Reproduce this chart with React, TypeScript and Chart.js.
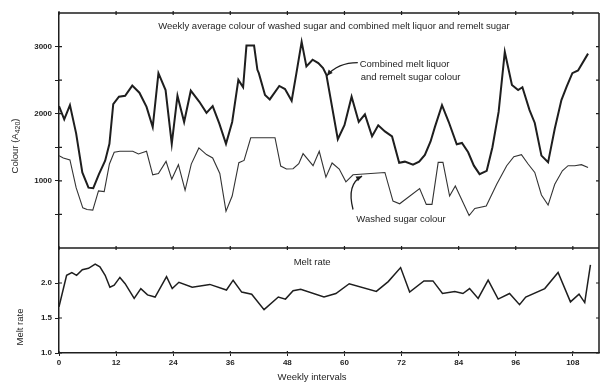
import React, { useEffect, useRef } from "react";
import { Chart, registerables } from "chart.js";
Chart.register(...registerables);

// ---- data ----
const combinedWeeks = [0, 1.1, 2.3, 3.6, 4.9, 6.2, 7.2, 8.4, 9.7, 10.6, 11.4, 12.6, 13.9, 15.4, 16.9, 18.4, 19.7, 20.9, 22.4, 23.7, 24.9, 26.3, 27.7, 29.5, 31.0, 32.3, 33.7, 35.1, 36.4, 37.7, 38.7, 39.4, 41.0, 41.7, 42.0, 43.3, 44.3, 46.3, 47.5, 48.9, 49.9, 51.0, 52.0, 53.3, 54.5, 55.5, 56.2, 58.6, 60.0, 61.5, 63.0, 64.3, 65.8, 67.1, 68.5, 70.0, 71.5, 72.7, 74.4, 75.7, 76.9, 78.1, 79.0, 80.5, 81.9, 83.6, 84.7, 86.0, 87.2, 88.4, 89.9, 91.1, 92.4, 93.7, 95.2, 96.5, 97.4, 98.9, 100.0, 101.4, 102.8, 104.2, 105.6, 106.7, 107.9, 109.1, 111.2];
const combinedColour = [2113, 1917, 2128, 1707, 1125, 899, 890, 1100, 1300, 1552, 2143, 2253, 2268, 2418, 2313, 2102, 1802, 2604, 2353, 1552, 2268, 1877, 2343, 2177, 2012, 2113, 1852, 1552, 1877, 2504, 2394, 3015, 3015, 2654, 2604, 2278, 2213, 2413, 2368, 2193, 2604, 3071, 2704, 2804, 2754, 2680, 2579, 1620, 1830, 2253, 1877, 1990, 1665, 1827, 1737, 1662, 1270, 1286, 1240, 1285, 1386, 1586, 1800, 2128, 1880, 1545, 1565, 1426, 1226, 1100, 1150, 1501, 2027, 2920, 2429, 2353, 2394, 2053, 1862, 1376, 1276, 1777, 2203, 2403, 2604, 2644, 2895];

const washedWeeks = [0, 0.9, 2.3, 3.6, 5.0, 5.9, 7.1, 8.3, 9.5, 10.6, 11.6, 12.8, 15.5, 16.7, 18.4, 19.7, 20.9, 22.5, 23.7, 25.1, 26.5, 27.8, 29.4, 31.0, 32.3, 33.8, 35.1, 36.4, 37.8, 38.9, 40.3, 45.4, 46.6, 47.8, 49.2, 50.4, 51.3, 53.4, 54.7, 56.1, 57.4, 58.9, 60.3, 61.8, 68.5, 70.2, 71.6, 75.8, 77.2, 78.4, 79.7, 80.7, 82.1, 83.3, 86.2, 87.4, 89.8, 92.0, 94.1, 95.6, 97.2, 98.6, 100.0, 101.4, 102.8, 104.2, 105.8, 107.0, 108.4, 109.8, 111.2];
const washedColour = [1376, 1341, 1311, 899, 598, 574, 564, 850, 839, 1251, 1426, 1441, 1441, 1401, 1441, 1090, 1110, 1290, 1025, 1241, 860, 1250, 1490, 1391, 1341, 1110, 549, 774, 1270, 1305, 1642, 1642, 1220, 1176, 1180, 1255, 1405, 1226, 1441, 1055, 1266, 1176, 985, 1090, 1125, 699, 659, 884, 649, 649, 1276, 1276, 774, 925, 484, 589, 624, 950, 1226, 1361, 1391, 1251, 1125, 789, 639, 950, 1150, 1226, 1226, 1241, 1200];

const meltWeeks = [0, 1.6, 2.7, 3.7, 4.9, 6.2, 7.6, 8.6, 9.7, 10.7, 11.6, 12.8, 13.9, 15.8, 17.2, 18.6, 20.2, 22.6, 23.8, 25.2, 28.0, 31.7, 35.2, 36.6, 38.4, 40.5, 43.1, 46.1, 47.6, 49.2, 50.8, 55.7, 58.2, 61.0, 66.7, 69.2, 71.8, 73.7, 76.7, 78.6, 80.6, 83.2, 84.9, 86.3, 88.1, 90.2, 92.3, 94.7, 96.8, 98.1, 102.1, 104.9, 107.5, 109.3, 110.5, 111.7];
const meltRate = [1.66, 2.11, 2.15, 2.11, 2.19, 2.21, 2.27, 2.23, 2.11, 1.94, 1.97, 2.08, 1.99, 1.78, 1.92, 1.83, 1.80, 2.09, 1.92, 2.01, 1.94, 1.98, 1.90, 2.04, 1.87, 1.84, 1.62, 1.80, 1.77, 1.89, 1.91, 1.80, 1.85, 1.99, 1.88, 2.02, 2.22, 1.87, 2.03, 2.03, 1.85, 1.88, 1.85, 1.92, 1.78, 2.04, 1.77, 1.85, 1.69, 1.80, 1.92, 2.15, 1.73, 1.84, 1.72, 2.26];

const weekTicks = [0, 12, 24, 36, 48, 60, 72, 84, 96, 108];
const colourTicks = [500, 1000, 1500, 2000, 2500, 3000];
const meltTicks = [1.0, 1.5, 2.0];

const INK = "#1e1e1e";
const FONT = '"Liberation Sans", Arial, sans-serif';

function pts(xs: number[], ys: number[]) {
  return xs.map((x, i) => ({ x, y: ys[i] }));
}

function arrow(ctx: CanvasRenderingContext2D, p0: number[], c: number[], p1: number[]) {
  ctx.beginPath();
  ctx.moveTo(p0[0], p0[1]);
  ctx.quadraticCurveTo(c[0], c[1], p1[0], p1[1]);
  ctx.stroke();
  const ang = Math.atan2(p1[1] - c[1], p1[0] - c[0]);
  const L = 6, W = 2.6;
  ctx.beginPath();
  ctx.moveTo(p1[0], p1[1]);
  ctx.lineTo(p1[0] - L * Math.cos(ang) + W * Math.sin(ang), p1[1] - L * Math.sin(ang) - W * Math.cos(ang));
  ctx.lineTo(p1[0] - L * Math.cos(ang) - W * Math.sin(ang), p1[1] - L * Math.sin(ang) + W * Math.cos(ang));
  ctx.closePath();
  ctx.fill();
}

const decor = {
  id: "decor",
  afterDraw(chart: any) {
    const { ctx, chartArea: ca, scales } = chart;
    const x = scales.x, y = scales.y, y2 = scales.y2;
    ctx.save();
    ctx.strokeStyle = INK;
    ctx.fillStyle = INK;
    ctx.lineWidth = 1.5;
    ctx.beginPath();
    ctx.moveTo(ca.left, ca.top); ctx.lineTo(ca.right, ca.top);
    ctx.moveTo(ca.right, ca.top); ctx.lineTo(ca.right, ca.bottom);
    ctx.moveTo(ca.left, y.bottom); ctx.lineTo(ca.right, y.bottom);
    ctx.stroke();
    ctx.lineWidth = 1.2;
    ctx.beginPath();
    for (const t of weekTicks) {
      const px = x.getPixelForValue(t);
      ctx.moveTo(px, ca.top - 2); ctx.lineTo(px, ca.top + 2);
      ctx.moveTo(px, y.bottom - 2); ctx.lineTo(px, y.bottom + 2);
      ctx.moveTo(px, ca.bottom - 2); ctx.lineTo(px, ca.bottom);
    }
    for (const t of colourTicks) {
      const py = y.getPixelForValue(t);
      ctx.moveTo(ca.right - 3, py); ctx.lineTo(ca.right, py);
      ctx.moveTo(ca.left, py); ctx.lineTo(ca.left + 3, py);
    }
    for (const t of meltTicks) {
      const py = y2.getPixelForValue(t);
      ctx.moveTo(ca.right - 3, py); ctx.lineTo(ca.right, py);
      ctx.moveTo(ca.left, py); ctx.lineTo(ca.left + 3, py);
    }
    ctx.stroke();

    const P = (wx: number, v: number, s: any = y) => [x.getPixelForValue(wx), s.getPixelForValue(v)];

    // texts
    ctx.textBaseline = "middle";
    ctx.font = `9.5px ${FONT}`;
    ctx.textAlign = "center";
    let p = P(57.8, 3300);
    ctx.fillText("Weekly average colour of washed sugar and combined melt liquor and remelt sugar", p[0], p[1]);
    ctx.textAlign = "left";
    p = P(63.2, 2740);
    ctx.fillText("Combined melt liquor", p[0], p[1]);
    p = P(63.4, 2545);
    ctx.fillText("and remelt sugar colour", p[0], p[1]);
    p = P(62.5, 430);
    ctx.fillText("Washed sugar colour", p[0], p[1]);
    ctx.textAlign = "center";
    p = P(53.2, 2.29, y2);
    ctx.fillText("Melt rate", p[0], p[1]);
    ctx.fillText("Weekly intervals", p[0], ca.bottom + 24);

    // arrows
    ctx.lineWidth = 1.3;
    arrow(ctx, P(62.8, 2760), P(58.6, 2760), P(56.3, 2564));
    arrow(ctx, P(61.8, 574), P(60.4, 950), P(63.7, 1070));

    // rotated axis titles
    ctx.save();
    ctx.translate(15, 146);
    ctx.rotate(-Math.PI / 2);
    ctx.textAlign = "left";
    const a = "Colour (A";
    const sub = "420";
    const b = ")";
    ctx.font = `9.5px ${FONT}`;
    const wa = ctx.measureText(a).width;
    const wb = ctx.measureText(b).width;
    ctx.font = `7px ${FONT}`;
    const ws = ctx.measureText(sub).width;
    const tot = wa + ws + wb;
    let cx = -tot / 2;
    ctx.font = `9.5px ${FONT}`;
    ctx.fillText(a, cx, 0);
    cx += wa;
    ctx.font = `7px ${FONT}`;
    ctx.fillText(sub, cx, 3);
    cx += ws;
    ctx.font = `9.5px ${FONT}`;
    ctx.fillText(b, cx, 0);
    ctx.restore();

    ctx.save();
    ctx.translate(20, 327);
    ctx.rotate(-Math.PI / 2);
    ctx.textAlign = "center";
    ctx.font = `9.5px ${FONT}`;
    ctx.fillText("Melt rate", 0, 0);
    ctx.restore();

    ctx.restore();
  },
};

export default function App() {
  const ref = useRef<HTMLCanvasElement>(null);
  useEffect(() => {
    if (!ref.current) return;
    const tickFont = { family: FONT, size: 8, weight: "bold" as const };
    const chart = new Chart(ref.current, {
      type: "line",
      data: {
        datasets: [
          { data: pts(combinedWeeks, combinedColour), yAxisID: "y", borderColor: INK, borderWidth: 2, pointRadius: 0, tension: 0 },
          { data: pts(washedWeeks, washedColour), yAxisID: "y", borderColor: "#333", borderWidth: 1.1, pointRadius: 0, tension: 0 },
          { data: pts(meltWeeks, meltRate), yAxisID: "y2", borderColor: INK, borderWidth: 1.5, pointRadius: 0, tension: 0 },
        ],
      },
      options: {
        animation: false,
        responsive: false,
        layout: { padding: { top: 13, right: 2, left: 0, bottom: 0 } },
        plugins: { legend: { display: false }, tooltip: { enabled: false }, title: { display: false } },
        scales: {
          x: {
            type: "linear",
            min: 0,
            max: 113.5,
            afterBuildTicks: (s: any) => { s.ticks = weekTicks.map((v) => ({ value: v })); },
            ticks: { font: tickFont, color: INK, padding: 2, maxRotation: 0, autoSkip: false },
            grid: { drawOnChartArea: false, tickLength: 3, color: INK },
            border: { color: INK, width: 1.5 },
            afterFit: (s: any) => { s.height = 31; },
          },
          y: {
            type: "linear",
            stack: "panels",
            stackWeight: 235,
            weight: 1,
            min: 0,
            max: 3500,
            afterBuildTicks: (s: any) => { s.ticks = colourTicks.map((v) => ({ value: v })); },
            ticks: { font: tickFont, color: INK, padding: 3, callback: (v: any) => (v % 1000 === 0 ? String(v) : "") },
            grid: { drawOnChartArea: false, tickLength: 4, color: INK },
            border: { color: INK, width: 1.5 },
            afterFit: (s: any) => { s.width = 59; },
          },
          y2: {
            type: "linear",
            stack: "panels",
            stackWeight: 105,
            weight: 0,
            offset: false,
            min: 1,
            max: 2.5,
            afterBuildTicks: (s: any) => { s.ticks = meltTicks.map((v) => ({ value: v })); },
            ticks: { font: tickFont, color: INK, padding: 3, callback: (v: any) => Number(v).toFixed(1) },
            grid: { drawOnChartArea: false, tickLength: 4, color: INK },
            border: { color: INK, width: 1.5 },
            afterFit: (s: any) => { s.width = 59; },
          },
        },
      } as any,
      plugins: [decor],
    });
    return () => chart.destroy();
  }, []);
  return (
    <div style={{ position: "fixed", left: 0, top: 0, width: 601, height: 384, background: "#fff" }}>
      <canvas ref={ref} width={601} height={384} />
    </div>
  );
}
